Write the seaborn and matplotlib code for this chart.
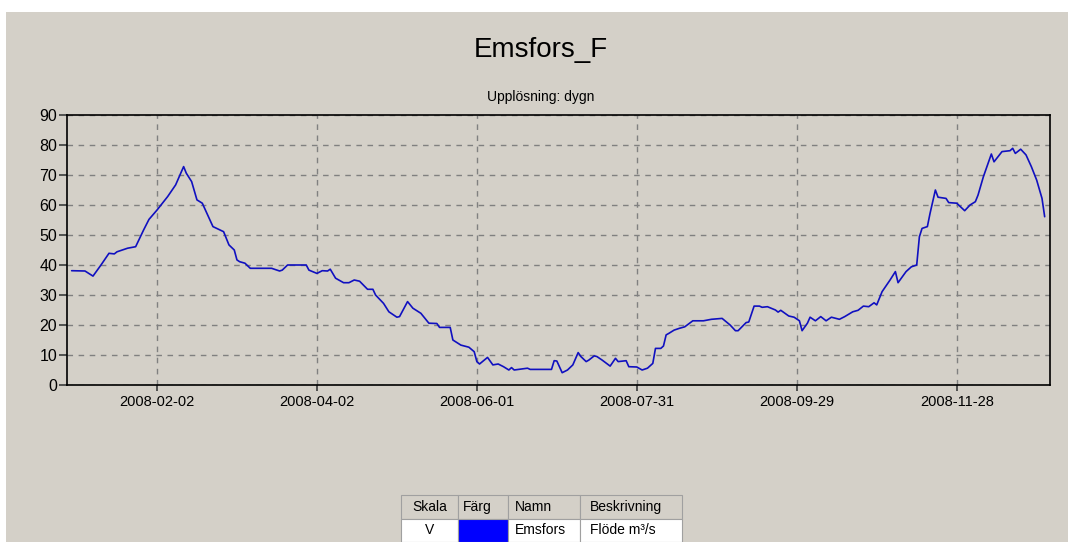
import pandas as pd
import matplotlib.pyplot as plt
import matplotlib.dates as mdates
from matplotlib.patches import Rectangle
import seaborn as sns

sns.set_theme(style="ticks")
plt.rcParams['font.family'] = ['Liberation Sans', 'DejaVu Sans']
plt.rcParams['text.color'] = 'black'
plt.rcParams['xtick.color'] = 'black'
plt.rcParams['ytick.color'] = 'black'

# daily flow (day number counted from 2008-01-01)
day_of_year = [0, 5, 8, 11, 14, 16, 17, 21, 24, 27, 29, 32, 36, 39, 42, 43, 45, 47, 49, 53,
               57, 59, 61, 62, 63, 65, 67, 75, 78, 79, 81, 88, 89, 92, 94, 96, 97, 99, 102, 104,
               106, 108, 111, 113, 114, 117, 119, 122, 123, 126, 128, 131, 134, 137, 138, 142, 143, 146, 149, 151,
               152, 153, 156, 158, 160, 162, 164, 165, 166, 171, 172, 180, 181, 182, 184, 186, 188, 190, 191, 193,
               194, 196, 197, 199, 202, 204, 205, 208, 209, 212, 214, 216, 218, 219, 221, 222, 223, 224, 226, 228,
               230, 233, 237, 240, 244, 247, 249, 250, 253, 254, 256, 258, 259, 261, 264, 265, 266, 269, 271, 273,
               274, 276, 277, 279, 281, 283, 285, 288, 290, 293, 295, 297, 299, 301, 302, 304, 307, 309, 310, 313,
               315, 317, 318, 319, 321, 322, 324, 325, 328, 329, 332, 335, 337, 339, 340, 342, 345, 346, 349, 352,
               353, 354, 356, 358, 360, 362, 364, 365]
flow = [38.1, 38.0, 36.3, 40.0, 43.9, 43.7, 44.4, 45.6, 46.1, 51.7, 55.2, 58.3, 62.8, 66.7, 72.8, 70.6, 67.8, 61.7, 60.6, 52.8,
        51.1, 46.7, 45.0, 41.7, 41.1, 40.6, 38.9, 38.9, 38.0, 38.3, 40.0, 40.0, 38.3, 37.2, 38.1, 38.0, 38.6, 35.6, 34.1, 34.1,
        35.0, 34.6, 31.9, 31.9, 30.0, 27.2, 24.4, 22.6, 22.8, 27.8, 25.6, 23.9, 20.6, 20.5, 19.2, 19.2, 15.0, 13.3, 12.6, 11.1,
        7.8, 7.0, 9.2, 6.7, 7.0, 6.1, 5.0, 5.8, 5.0, 5.6, 5.2, 5.2, 8.1, 8.0, 4.1, 5.0, 6.7, 10.8, 9.5, 7.8,
        8.3, 9.7, 9.5, 8.3, 6.3, 8.9, 7.8, 8.1, 6.1, 6.0, 5.0, 5.6, 7.2, 12.2, 12.2, 13.0, 16.7, 17.2, 18.3, 18.9,
        19.4, 21.4, 21.4, 21.9, 22.2, 20.0, 18.1, 18.1, 20.8, 21.0, 26.3, 26.3, 25.9, 26.1, 25.0, 24.3, 24.9, 23.0, 22.6, 21.4,
        18.1, 20.6, 22.6, 21.4, 22.8, 21.4, 22.6, 21.9, 22.8, 24.4, 24.9, 26.3, 26.1, 27.4, 26.7, 31.1, 35.0, 37.8, 34.1, 37.8,
        39.4, 40.0, 49.4, 52.2, 52.8, 57.2, 65.0, 62.6, 62.2, 60.8, 60.6, 58.1, 60.0, 61.1, 63.3, 69.4, 77.0, 74.4, 77.8, 78.1,
        78.9, 77.2, 78.6, 76.7, 72.8, 68.3, 62.2, 56.1]

tick_dates = ["2008-02-02", "2008-04-02", "2008-06-01", "2008-07-31", "2008-09-29", "2008-11-28"]
y_ticks = [0, 10, 20, 30, 40, 50, 60, 70, 80, 90]

table_header = ["Skala", "Färg", "Namn", "Beskrivning"]
table_row = ["V", "", "Emsfors", "Flöde m³/s"]

df = pd.DataFrame({
    "date": pd.Timestamp("2008-01-01") + pd.to_timedelta(day_of_year, unit="D"),
    "flow": flow,
})

bg = "#D4D0C8"
fig = plt.figure(figsize=(10.68, 5.42), dpi=100, facecolor="white")
fig.patches.append(Rectangle((6 / 1068, 0), 1, 1 - 12 / 542, transform=fig.transFigure,
                             facecolor=bg, edgecolor="none", zorder=-10))

ax = fig.add_axes([67 / 1068, 1 - 385 / 542, (1050 - 67) / 1068, (385 - 115) / 542])
ax.set_facecolor(bg)

sns.lineplot(data=df, x="date", y="flow", ax=ax, color="#1010C0", linewidth=1.2)

ax.set_xlim(pd.Timestamp("2007-12-30 06:00"), pd.Timestamp("2009-01-02"))
ax.set_ylim(0, 90)
ax.set_xticks(pd.to_datetime(tick_dates))
ax.xaxis.set_major_formatter(mdates.DateFormatter("%Y-%m-%d"))
ax.set_yticks(y_ticks)
ax.set_xlabel("")
ax.set_ylabel("")

ax.grid(True, color="#808080", linestyle=(0, (4, 4)), linewidth=1)
ax.tick_params(axis="x", labelsize=10.5, length=4, color="#404040", pad=3)
ax.tick_params(axis="y", labelsize=11.5, length=6, color="#404040", pad=1)
for s in ax.spines.values():
    s.set_visible(True)
    s.set_color("black")
    s.set_linewidth(1.2)

fig.text(541 / 1068, 1 - 50 / 542, "Emsfors_F", ha="center", va="center", fontsize=20)
fig.text(541 / 1068, 1 - 97 / 542, "Upplösning: dygn", ha="center", va="center", fontsize=10)

# legend table
tax = fig.add_axes([401 / 1068, 0, 281 / 1068, 47 / 542])
tax.axis("off")
tbl = tax.table(cellText=[table_header, table_row], bbox=[0, 0, 1, 1], cellLoc="left",
                colWidths=[57, 50, 72, 102])
tbl.auto_set_font_size(False)
for (r, c), cell in tbl.get_celld().items():
    cell.set_fontsize(10)
    cell.get_text().set_color("black")
    cell.set_edgecolor("#A0A0A0")
    cell.set_linewidth(0.8)
    if r == 0:
        cell.set_facecolor(bg)
    else:
        cell.set_facecolor("white")
    if c == 0:
        cell.get_text().set_ha("center")
        cell._loc = "center"
    if r == 1 and c == 1:
        cell.set_facecolor("#0000FF")

fig.savefig("out.png", dpi=100, facecolor=fig.get_facecolor())
